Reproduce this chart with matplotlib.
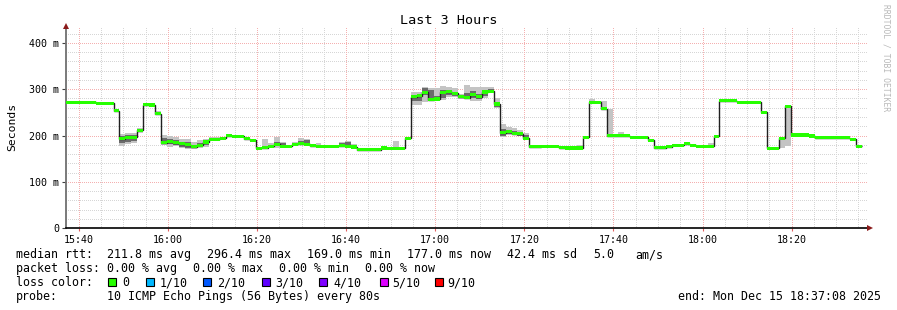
import numpy as np
import matplotlib
matplotlib.use("Agg")
import matplotlib.pyplot as plt
from matplotlib.ticker import FixedLocator

# ---------------- data ----------------
step_seconds = 80
start_label = "15:37:08"
median_ms = [
    272, 272, 272, 272, 272, 270, 270, 270, 254, 193,
    196, 196, 211, 267, 266, 247, 184, 187, 184, 182,
    180, 176, 179, 186, 192, 192, 194, 200, 198, 198,
    193, 190, 172, 174, 177, 181, 177, 177, 181, 182,
    181, 178, 177, 177, 177, 177, 178, 177, 175, 169,
    169, 169, 169, 173, 172, 172, 172, 194, 284, 286,
    293, 277, 279, 293, 295, 291, 284, 282, 288, 284,
    294, 296, 268, 206, 208, 204, 204, 194, 176, 176,
    177, 177, 177, 174, 173, 173, 173, 196, 272, 272,
    258, 200, 200, 200, 200, 196, 196, 196, 190, 174,
    174, 176, 179, 179, 182, 179, 177, 177, 177, 198,
    275, 275, 275, 272, 272, 272, 272, 250, 172, 172,
    194, 263, 201, 201, 201, 199, 195, 195, 195, 195,
    195, 195, 192, 177,
]

# smoke (spread of the 10 pings) for slots where it is visible
smoke_slot = [9, 10, 11, 12, 15, 16, 17, 18, 19, 20, 21, 22, 23, 24, 25, 26, 27,
              33, 34, 35, 36, 38, 39, 40, 41, 42, 46, 47, 48, 55,
              58, 59, 60, 61, 62, 63, 64, 65, 66, 67, 68, 69, 70, 71, 72,
              73, 74, 75, 76, 77, 86, 88, 90, 91, 93, 101, 108, 120, 121, 131]
smoke_min = [178, 182, 184, 206, 244, 180, 176, 178, 172, 170, 171, 172, 176, 192, 192, 194, 200,
             174, 176, 174, 176, 181, 182, 181, 178, 177, 178, 172, 170, 172,
             266, 266, 273, 275, 275, 277, 283, 283, 278, 282, 275, 275, 280, 296, 259,
             197, 201, 201, 198, 192, 173, 272, 258, 200, 200, 176, 177, 172, 178, 195]
smoke_max = [204, 205, 205, 216, 253, 201, 199, 196, 192, 193, 186, 190, 193, 197, 197, 197, 203,
             192, 183, 197, 187, 187, 194, 192, 182, 183, 186, 188, 181, 188,
             293, 294, 304, 302, 302, 306, 304, 302, 290, 309, 304, 304, 304, 304, 280,
             225, 219, 216, 212, 206, 179, 279, 274, 258, 207, 179, 184, 194, 263, 198]
smoke_qlo = [184, 186, 188, 208, 246, 182, 182, 180, 176, 172, 173, 176, 180, 192, 192, 194, 200,
             174, 177, 178, 177, 181, 182, 181, 178, 177, 178, 174, 172, 172,
             275, 275, 287, 278, 277, 280, 287, 286, 280, 284, 280, 278, 285, 296, 262,
             200, 204, 202, 200, 193, 173, 272, 258, 200, 200, 176, 177, 172, 178, 195]
smoke_qhi = [198, 200, 200, 214, 251, 195, 192, 190, 186, 186, 180, 184, 188, 192, 192, 194, 202,
             174, 177, 187, 184, 181, 188, 190, 180, 177, 184, 185, 176, 172,
             288, 288, 302, 298, 286, 298, 298, 295, 286, 291, 296, 290, 298, 300, 272,
             215, 210, 210, 208, 200, 173, 272, 258, 200, 200, 176, 177, 172, 178, 197]

x_tick_labels = ["15:40", "16:00", "16:20", "16:40", "17:00", "17:20", "17:40", "18:00", "18:20"]
y_tick_values = [0, 100, 200, 300, 400]
y_tick_labels = ["0", "100 m", "200 m", "300 m", "400 m"]

title = "Last 3 Hours"
stats_rtt = ["211.8 ms avg", "296.4 ms max", "169.0 ms min", "177.0 ms now", "42.4 ms sd", "5.0", "am/s"]
stats_loss = ["0.00 % avg", "0.00 % max", "0.00 % min", "0.00 % now"]
loss_labels = ["0", "1/10", "2/10", "3/10", "4/10", "5/10", "9/10"]
loss_colors = ["#26ff00", "#00b8ff", "#0059ff", "#5e00ff", "#7e00ff", "#dd00ff", "#ff0000"]
probe_text = "10 ICMP Echo Pings (56 Bytes) every 80s"
end_text = "end: Mon Dec 15 18:37:08 2025"

# ---------------- figure ----------------
W, H = 897, 310
fig = plt.figure(figsize=(W / 100, H / 100), dpi=100)
fig.patch.set_facecolor("white")
MONO = "DejaVu Sans Mono"

def fx(px):
    return px / W

def fy(py):
    return 1 - py / H

L, R, T, B = 66, 868, 26, 228
ax = fig.add_axes([fx(L), fy(B), fx(R - L), (B - T) / H])
ax.set_facecolor("white")

total_min = 180.0
ax.set_xlim(0, total_min)
ax.set_ylim(0, (B - T) / 0.4625)

# time base (minutes since start)
h0, m0, s0 = [int(v) for v in start_label.split(":")]
start_min = h0 * 60 + m0 + s0 / 60.0
n = len(median_ms)
edges = np.arange(n + 1) * step_seconds / 60.0
med = np.array(median_ms, dtype=float)

# grid
def tick_to_min(lbl):
    hh, mm = [int(v) for v in lbl.split(":")]
    return hh * 60 + mm - start_min

major_x = [tick_to_min(l) for l in x_tick_labels]
minor_x = np.arange(major_x[0], total_min, 5.0)
minor_y = np.arange(20, 440, 20)

grid_minor = dict(color="#d6d6d6", lw=0.72, ls=(0, (1, 2)), zorder=0, antialiased=False)
grid_major = dict(color="#f4b0b0", lw=0.72, ls=(0, (1, 2)), zorder=0.5, antialiased=False)
for xv in minor_x:
    ax.axvline(xv, **grid_minor)
for yv in minor_y:
    ax.axhline(yv, **grid_minor)
for xv in major_x:
    ax.axvline(xv, **grid_major)
for yv in y_tick_values[1:]:
    ax.axhline(yv, **grid_major)

# smoke
wslot = step_seconds / 60.0
ss = np.array(smoke_slot)
ax.bar(ss * wslot, np.array(smoke_max) - np.array(smoke_min), bottom=smoke_min,
       width=wslot, align="edge", color="#c4c4c4", lw=0, zorder=1)
ax.bar(ss * wslot, np.array(smoke_qhi) - np.array(smoke_qlo), bottom=smoke_qlo,
       width=wslot, align="edge", color="#6a6a6a", lw=0, zorder=1.1)

# median line + loss-coloured band
ax.stairs(med, edges, baseline=None, color="#202020", lw=1.0, zorder=2)
band = 3.4
ax.stairs(med + band, edges, baseline=med - band, fill=True, color=loss_colors[0], lw=0, zorder=3)

# ticks
ax.xaxis.set_major_locator(FixedLocator(major_x))
ax.set_xticklabels(x_tick_labels, family=MONO, fontsize=7.2)
ax.set_yticks(y_tick_values)
ax.set_yticklabels(y_tick_labels, family=MONO, fontsize=7.2)
ax.tick_params(axis="x", length=2.5, width=0.8, color="#e06060", pad=2.5)
ax.tick_params(axis="y", length=2.9, width=0.8, color="#404040", pad=2.0)

for s in ["top", "right"]:
    ax.spines[s].set_visible(False)
ax.spines["left"].set_color("#707070")
ax.spines["left"].set_linewidth(1.3)
ax.spines["bottom"].set_color("#000000")
ax.spines["bottom"].set_linewidth(1.2)
ax.spines["bottom"].set_bounds(0, total_min)

# arrows
ax.plot([0], [1.0], marker="^", ms=4.5, color="#8b1a1a", transform=ax.transAxes,
        clip_on=False, zorder=5, mew=0)
ax.plot([1.0 + 2 / (R - L)], [0], marker=">", ms=4.5, color="#8b1a1a", transform=ax.transAxes,
        clip_on=False, zorder=5, mew=0)

# texts
fig.text(0.5, fy(24), title, ha="center", va="baseline", family=MONO, fontsize=9.7)
fig.text(fx(12), fy(127), "Seconds", rotation=90, ha="center", va="center", family=MONO, fontsize=8.2)
fig.text(fx(886), fy(4), "RRDTOOL / TOBI OETIKER", rotation=270, ha="center", va="top",
         family=MONO, fontsize=5.8, color="#b8b8b8")

LEG = 8.4
def t(px, py, s, ha="left"):
    fig.text(fx(px), fy(py), s, ha=ha, va="baseline", family=MONO, fontsize=LEG)

t(16, 258, "median rtt:")
for xpos, s in zip([107, 207, 307, 407, 507, 593, 635], stats_rtt):
    t(xpos, 258, s)
t(16, 272, "packet loss:")
for xpos, s in zip([107, 193, 279, 365], stats_loss):
    t(xpos, 272, s)
t(16, 286, "loss color:")
box_x = [108, 146, 203, 262, 319, 380, 435]
lab_x = [122, 160, 217, 275, 333, 392, 447]
for bx, lx, c, s in zip(box_x, lab_x, loss_colors, loss_labels):
    fig.patches.append(plt.Rectangle((fx(bx), fy(286)), fx(8), 8 / H, transform=fig.transFigure,
                                     facecolor=c, edgecolor="black", lw=0.8, figure=fig))
    t(lx, 286, s)
t(16, 300, "probe:")
t(107, 300, probe_text)
t(881, 300, end_text, ha="right")

fig.savefig("out.png", dpi=100, facecolor="white")
